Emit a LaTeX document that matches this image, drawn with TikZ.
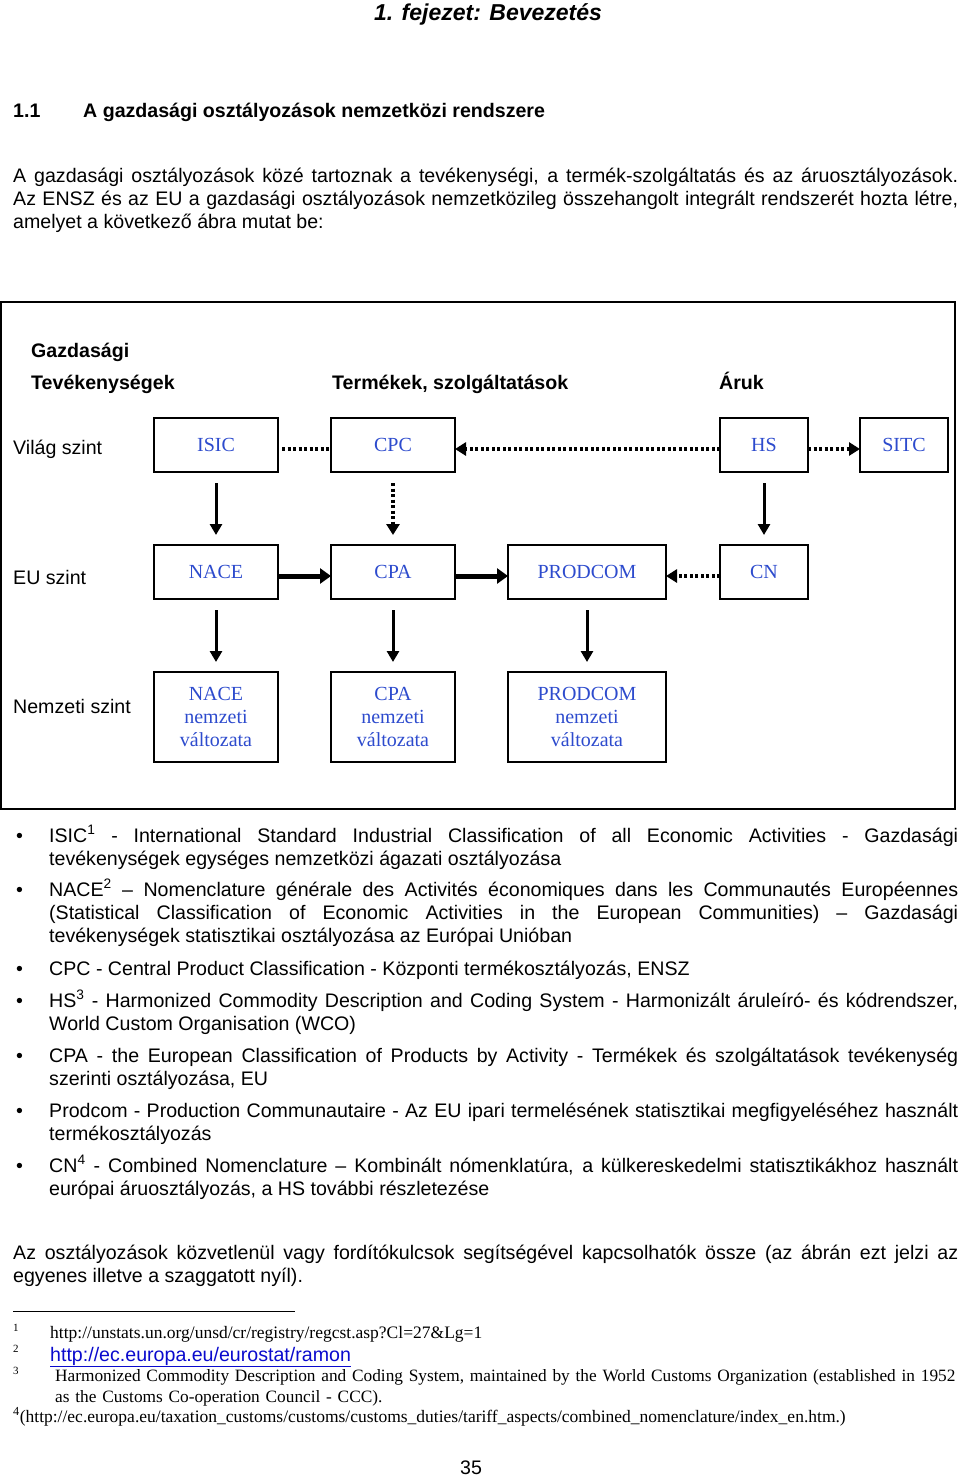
\documentclass[tikz,border=0pt]{standalone}
\usepackage{fontspec}
\setmainfont{Liberation Sans}
\newfontfamily\timesfont{Liberation Serif}
\usetikzlibrary{positioning,arrows.meta}

\definecolor{clsblue}{RGB}{45,75,205}
\definecolor{linkblue}{RGB}{10,10,205}

\tolerance=9999
\hyphenpenalty=10000

\tikzset{
  txt/.style={anchor=base west, inner sep=0pt,
    font=\fontsize{19.6}{23}\selectfont},
  bold/.style={txt, font=\fontsize{19.6}{23}\selectfont\bfseries},
  para/.style={txt, text width=945pt, align=justify},
  item/.style={txt, text width=909pt, align=justify},
  cls/.style={draw, line width=1.6pt, minimum height=54pt, inner sep=0pt,
    outer sep=0pt, text=clsblue, align=center,
    font=\timesfont\fontsize{20}{23}\selectfont},
  wide/.style={cls, minimum width=124pt},
  narrow/.style={cls, minimum width=88pt},
  solidarr/.style={line width=3pt, -{Triangle[length=11pt,width=12pt]}},
  thickarr/.style={line width=5pt, -{Triangle[length=11pt,width=15pt]}},
  dotline/.style={line width=4pt, dash pattern=on 3pt off 2.5pt},
  dotarr/.style={dotline, -{Triangle[length=11pt,width=13pt]}},
  down/.style={shorten <=11pt, shorten >=10pt},
  note/.style={anchor=base west, inner sep=0pt,
    font=\timesfont\fontsize{17.5}{21}\selectfont},
  fnmark/.style={anchor=base west, inner sep=0pt,
    font=\timesfont\fontsize{11}{12}\selectfont}
}

\begin{document}
\begin{tikzpicture}[x=1pt, y=-1pt]
  \useasboundingbox (0,0) rectangle (960,1476);

  % page head
  \node[txt, anchor=base, font=\fontsize{23}{27}\selectfont\bfseries\itshape] (chap) at (488,20) {1. fejezet: Bevezetés};
  \node[bold] (secnum) at (13,117) {1.1};
  \node[bold] (sectitle) at (83,117) {A gazdasági osztályozások nemzetközi rendszere};

  \node[para] (intro) at (13,182) {A gazdasági osztályozások közé tartoznak a tevékenységi, a termék-szolgáltatás és az áruosztályozások.\linebreak
    Az ENSZ és az EU a gazdasági osztályozások nemzetközileg összehangolt integrált rendszerét hozta létre,\linebreak
    amelyet a következő ábra mutat be:};

  % the scheme
  \draw[line width=2pt] (1,302) rectangle (955,809);

  \node[bold] (hdgazd) at (31,357) {Gazdasági};
  \node[bold] (hdtev) at (31,389) {Tevékenységek};
  \node[bold] (hdterm) at (332,389) {Termékek, szolgáltatások};
  \node[bold] (hdaruk) at (719,389) {Áruk};

  \node[txt] (lvvilag) at (13,454) {Világ szint};
  \node[txt] (lveu) at (13,584) {EU szint};
  \node[txt] (lvnemz) at (13,713) {Nemzeti szint};

  \node[wide] (isic) at (216,445) {ISIC};
  \node[wide, right=53pt of isic] (cpc) {CPC};
  \node[narrow] (hs) at (764,445) {HS};
  \node[narrow, right=52pt of hs] (sitc) {SITC};

  \node[wide, below=73pt of isic] (nace) {NACE};
  \node[wide, below=73pt of cpc] (cpa) {CPA};
  \node[cls, minimum width=158pt, right=53pt of cpa] (prodcom) {PRODCOM};
  \node[narrow, below=73pt of hs] (cn) {CN};

  \node[wide, minimum height=90pt, below=73pt of nace] (nacen) {NACE\\nemzeti\\változata};
  \node[wide, minimum height=90pt, below=73pt of cpa] (cpan) {CPA\\nemzeti\\változata};
  \node[cls, minimum width=158pt, minimum height=90pt, below=73pt of prodcom] (prodcomn) {PRODCOM\\nemzeti\\változata};

  \draw[dotline, shorten <=4pt] ([yshift=-4pt]isic.east) -- ([yshift=-4pt]cpc.west);
  \draw[dotarr] ([yshift=-4pt]hs.west) -- ([yshift=-4pt]cpc.east);
  \draw[dotarr] ([yshift=-4pt]hs.east) -- ([yshift=-4pt]sitc.west);

  \draw[solidarr, down] (isic) -- (nace);
  \draw[dotarr, down] (cpc) -- (cpa);
  \draw[solidarr, down] (hs) -- (cn);

  \draw[thickarr] ([yshift=-4pt]nace.east) -- ([yshift=-4pt]cpa.west);
  \draw[thickarr] ([yshift=-4pt]cpa.east) -- ([yshift=-4pt]prodcom.west);
  \draw[dotarr] ([yshift=-4pt]cn.west) -- ([yshift=-4pt]prodcom.east);

  \draw[solidarr, down] (nace) -- (nacen);
  \draw[solidarr, down] (cpa) -- (cpan);
  \draw[solidarr, down] (prodcom) -- (prodcomn);

  % abbreviations
  \foreach \y in {842,896,975,1007,1062,1117,1172}
    \node[txt] (b\y) at (16,\y) {•};

  \node[item] (it1) at (49,842) {ISIC\textsuperscript{1} - International Standard Industrial Classification of all Economic Activities - Gazdasági\linebreak
    tevékenységek egységes nemzetközi ágazati osztályozása};
  \node[item] (it2) at (49,896) {NACE\textsuperscript{2} – Nomenclature générale des Activités économiques dans les Communautés Européennes\linebreak
    (Statistical Classification of Economic Activities in the European Communities) – Gazdasági\linebreak
    tevékenységek statisztikai osztályozása az Európai Unióban};
  \node[item] (it3) at (49,975) {CPC - Central Product Classification - Központi termékosztályozás, ENSZ};
  \node[item] (it4) at (49,1007) {HS\textsuperscript{3} - Harmonized Commodity Description and Coding System - Harmonizált áruleíró- és kódrendszer,\linebreak
    World Custom Organisation (WCO)};
  \node[item] (it5) at (49,1062) {CPA - the European Classification of Products by Activity - Termékek és szolgáltatások tevékenység\linebreak
    szerinti osztályozása, EU};
  \node[item] (it6) at (49,1117) {Prodcom - Production Communautaire - Az EU ipari termelésének statisztikai megfigyeléséhez használt\linebreak
    termékosztályozás};
  \node[item] (it7) at (49,1172) {CN\textsuperscript{4} - Combined Nomenclature – Kombinált nómenklatúra, a külkereskedelmi statisztikákhoz használt\linebreak
    európai áruosztályozás, a HS további részletezése};

  \node[para] (outro) at (13,1259) {Az osztályozások közvetlenül vagy fordítókulcsok segítségével kapcsolhatók össze (az ábrán ezt jelzi az\linebreak
    egyenes illetve a szaggatott nyíl).};

  % footnotes
  \coordinate (rulel) at (13,1311);
  \coordinate (ruler) at (295,1311);
  \draw[line width=1pt] (rulel) -- (ruler);

  \node[fnmark] (fm1) at (13,1331) {1};
  \node[fnmark] (fm2) at (13,1352) {2};
  \node[fnmark] (fm3) at (13,1374) {3};
  \node[note] (fn1) at (50,1338) {http://unstats.un.org/unsd/cr/registry/regcst.asp?Cl=27\&Lg=1};
  \node[txt, text=linkblue] (fn2) at (50,1361) {\underline{http://ec.europa.eu/eurostat/ramon}};
  \node[note, text width=905pt, align=left, font=\timesfont\fontsize{17.3}{21}\selectfont] (fn3) at (55,1381) {Harmonized Commodity Description and Coding System, maintained by the World Customs Organization (established in 1952\\
    as the Customs Co-operation Council - CCC).};
  \node[note] (fn4) at (13,1422) {\textsuperscript{4}(http://ec.europa.eu/taxation\_customs/customs/customs\_duties/tariff\_aspects/combined\_nomenclature/index\_en.htm.)};

  \node[txt, anchor=base] (pagenum) at (471,1474) {35};
\end{tikzpicture}
\end{document}
